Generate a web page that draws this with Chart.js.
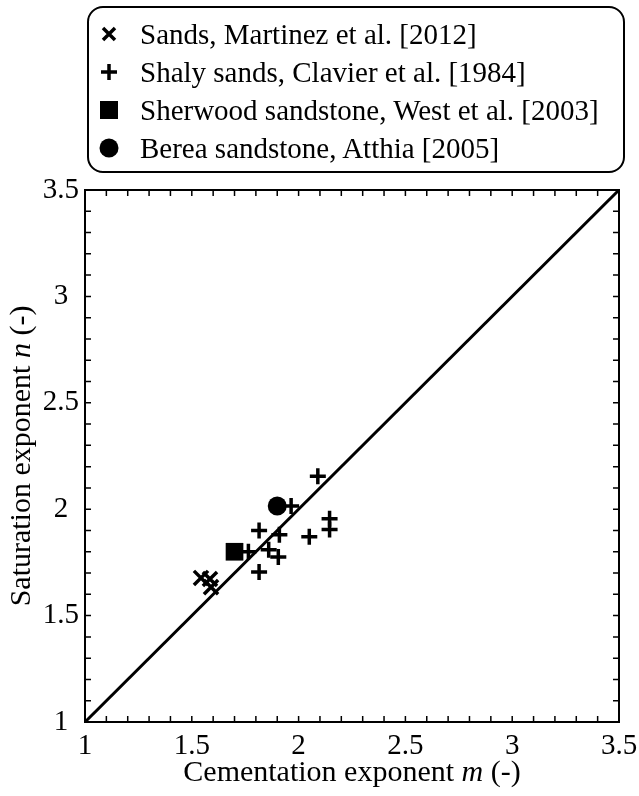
<!DOCTYPE html>
<html>
<head>
<meta charset="utf-8">
<script src="https://cdn.jsdelivr.net/npm/chart.js@4"></script>
<style>
  body { margin: 0; background: #fff; }
  #wrap { position: relative; width: 639px; height: 796px; }
  #legend {
    position: absolute; left: 87px; top: 6px; width: 538px; height: 167px;
    box-sizing: border-box; border: 2px solid #000; border-radius: 16px;
    padding-top: 7px; font-family: "Liberation Serif", serif; font-size: 29px; color: #000;
  }
  .row { height: 38px; display: flex; align-items: center; }
  .mk { width: 51px; display: flex; justify-content: center; }
  .mk svg { margin-left: -12px; }
</style>
</head>
<body>
<div id="wrap">
  <canvas id="chart" width="639" height="796"></canvas>
  <div id="legend"></div>
</div>
<script>
// cementation exponent m (x) / saturation exponent n (y)
const sandsM = [1.543, 1.585, 1.59];
const sandsN = [1.677, 1.672, 1.634];

const shalyM = [2.09, 1.965, 2.145, 2.145, 2.05, 1.815, 1.91, 1.765, 1.86, 1.905, 1.815];
const shalyN = [2.155, 2.015, 1.955, 1.905, 1.87, 1.9, 1.88, 1.8, 1.81, 1.775, 1.705];

const sherwoodM = [1.70];
const sherwoodN = [1.80];

const bereaM = [1.9];
const bereaN = [2.015];

const lineM = [1, 3.5]; // m = n
const lineN = [1, 3.5];

const tickLabels = ['1', '1.5', '2', '2.5', '3', '3.5'];
const legendLabels = [
  'Sands, Martinez et al. [2012]',
  'Shaly sands, Clavier et al. [1984]',
  'Sherwood sandstone, West et al. [2003]',
  'Berea sandstone, Atthia [2005]'
];
const axisMin = 1, axisMax = 3.5;

const pts = (xs, ys) => xs.map((x, i) => ({ x: x, y: ys[i] }));
const FONT = '"Liberation Serif", "Times New Roman", serif';

// html legend with a rounded box
const icons = [
  '<svg width="20" height="20"><path d="M4 4L16 16M16 4L4 16" stroke="#000" stroke-width="3.5"/></svg>',
  '<svg width="20" height="20"><path d="M10 2V18M2 10H18" stroke="#000" stroke-width="3.5"/></svg>',
  '<svg width="20" height="20"><rect x="1" y="1" width="18" height="18" fill="#000"/></svg>',
  '<svg width="20" height="20"><circle cx="10" cy="10" r="9.5" fill="#000"/></svg>'
];
document.getElementById('legend').innerHTML = legendLabels.map((t, i) =>
  '<div class="row"><span class="mk">' + icons[i] + '</span><span>' + t + '</span></div>').join('');

// frame, inward minor ticks and mixed-style axis titles
const framePlugin = {
  id: 'frame',
  afterDraw(chart) {
    const { ctx, chartArea: a, scales } = chart;
    ctx.save();
    ctx.strokeStyle = '#000';
    ctx.lineWidth = 1.5;
    const len = 6;
    for (let k = 1; k < 25; k++) {
      const v = axisMin + k * 0.1;
      const px = scales.x.getPixelForValue(v);
      const py = scales.y.getPixelForValue(v);
      ctx.beginPath();
      ctx.moveTo(px, a.bottom); ctx.lineTo(px, a.bottom - len);
      ctx.moveTo(px, a.top); ctx.lineTo(px, a.top + len);
      ctx.moveTo(a.left, py); ctx.lineTo(a.left + len, py);
      ctx.moveTo(a.right, py); ctx.lineTo(a.right - len, py);
      ctx.stroke();
    }
    ctx.lineWidth = 2;
    ctx.strokeRect(a.left, a.top, a.right - a.left, a.bottom - a.top);

    const drawParts = (parts, x, y) => {
      let total = 0;
      parts.forEach(p => { ctx.font = p[1] + ' 30px ' + FONT; total += ctx.measureText(p[0]).width; });
      let cx = x - total / 2;
      parts.forEach(p => {
        ctx.font = p[1] + ' 30px ' + FONT;
        ctx.fillText(p[0], cx, y);
        cx += ctx.measureText(p[0]).width;
      });
    };
    ctx.fillStyle = '#000';
    ctx.textBaseline = 'middle';
    ctx.textAlign = 'left';
    drawParts([['Cementation exponent ', 'normal'], ['m', 'italic'], [' (-)', 'normal']], (a.left + a.right) / 2, 773);
    ctx.translate(22, (a.top + a.bottom) / 2);
    ctx.rotate(-Math.PI / 2);
    drawParts([['Saturation exponent ', 'normal'], ['n', 'italic'], [' (-)', 'normal']], 0, 0);
    ctx.restore();
  }
};

const tickText = v => tickLabels[Math.round((v - axisMin) / 0.5)];
const noEdgePad = s => { s.paddingLeft = 0; s.paddingRight = 0; s.paddingTop = 0; s.paddingBottom = 0; };

new Chart(document.getElementById('chart'), {
  type: 'scatter',
  data: {
    datasets: [
      { type: 'line', data: pts(lineM, lineN), borderColor: '#000', borderWidth: 3, pointRadius: 0, fill: false },
      { label: legendLabels[0], data: pts(sandsM, sandsN), pointStyle: 'crossRot', pointRadius: 10, borderColor: '#000', borderWidth: 3.5 },
      { label: legendLabels[1], data: pts(shalyM, shalyN), pointStyle: 'cross', pointRadius: 8, borderColor: '#000', borderWidth: 3.5 },
      { label: legendLabels[2], data: pts(sherwoodM, sherwoodN), pointStyle: 'rect', pointRadius: 12.5, backgroundColor: '#000', borderColor: '#000', borderWidth: 0 },
      { label: legendLabels[3], data: pts(bereaM, bereaN), pointStyle: 'circle', pointRadius: 9.5, backgroundColor: '#000', borderColor: '#000', borderWidth: 0 }
    ]
  },
  options: {
    responsive: false,
    animation: false,
    layout: { padding: { top: 190, right: 20, left: 0, bottom: 0 } },
    plugins: { legend: { display: false }, tooltip: { enabled: false } },
    scales: {
      x: {
        type: 'linear', min: axisMin, max: axisMax,
        grid: { display: false, drawTicks: false },
        border: { display: false },
        ticks: { stepSize: 0.5, padding: 7, color: '#000', font: { family: FONT, size: 29 }, callback: tickText },
        afterFit: s => { s.height = 74; noEdgePad(s); }
      },
      y: {
        type: 'linear', min: axisMin, max: axisMax,
        grid: { display: false, drawTicks: false },
        border: { display: false },
        ticks: { stepSize: 0.5, padding: 6, crossAlign: 'center', color: '#000', font: { family: FONT, size: 29 }, callback: tickText },
        afterFit: s => { s.width = 85; noEdgePad(s); }
      }
    }
  },
  plugins: [framePlugin]
});
</script>
</body>
</html>
